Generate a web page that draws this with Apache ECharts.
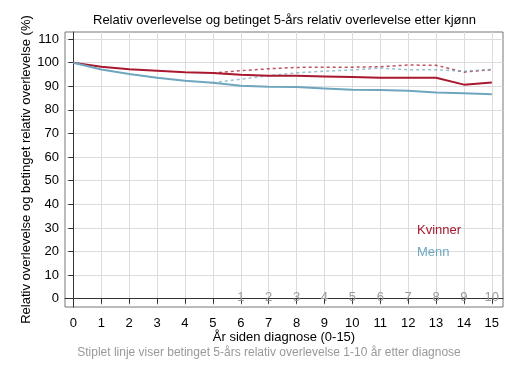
<!DOCTYPE html>
<html>
<head>
<meta charset="utf-8">
<script src="https://cdn.jsdelivr.net/npm/echarts@6/dist/echarts.min.js"></script>
<style>
  html, body { margin: 0; padding: 0; background: #fff; }
  #chart { width: 517px; height: 376px; }
</style>
</head>
<body>
<div id="chart"></div>
<script>
// data
var years = [0, 1, 2, 3, 4, 5, 6, 7, 8, 9, 10, 11, 12, 13, 14, 15];
var kvinner = [100, 98.3, 97.2, 96.6, 96.0, 95.6, 94.9, 94.5, 94.5, 94.2, 93.9, 93.6, 93.6, 93.6, 90.7, 91.6];
var menn = [100, 97.1, 95.2, 93.6, 92.3, 91.5, 90.2, 89.8, 89.7, 89.1, 88.5, 88.4, 88.1, 87.4, 87.0, 86.6];
// betinget 5-års relativ overlevelse, fra år 5
var kvinnerBet = [null, null, null, null, null, 95.6, 96.6, 97.4, 98.0, 98.1, 98.1, 98.3, 99.0, 98.9, 96.0, 97.1];
var mennBet = [null, null, null, null, null, 91.5, 93.0, 94.5, 95.7, 96.4, 96.9, 97.7, 97.0, 97.0, 96.4, 97.1];
var yTicks = [0, 10, 20, 30, 40, 50, 60, 70, 80, 90, 100, 110];
var betTicks = [6, 7, 8, 9, 10, 11, 12, 13, 14, 15]; // vises som 1..10

var red = '#A8182F', blue = '#6FA6BD';
var font = 'Liberation Sans, Arial, sans-serif';

function pairs(vals) {
    return years.map(function(x, i) { return [x, vals[i]]; });
}

var chart = echarts.init(document.getElementById('chart'));

chart.setOption({
    animation: false,
    textStyle: { fontFamily: font },
    title: {
        text: 'Relativ overlevelse og betinget 5-års relativ overlevelse etter kjønn',
        left: 88, top: 9,
        textStyle: { fontSize: 13, fontWeight: 'normal', color: '#000', fontFamily: font }
    },
    legend: {
        orient: 'vertical', left: 407, top: 219, itemGap: 9,
        icon: 'none', itemWidth: 0, itemHeight: 0, selectedMode: false,
        textStyle: { fontSize: 13, fontFamily: font },
        data: [
            { name: 'Kvinner', textStyle: { color: red } },
            { name: 'Menn', textStyle: { color: blue } }
        ]
    },
    grid: { left: 65, right: 14, top: 32, bottom: 69, show: true, borderColor: '#777', borderWidth: 1 },
    xAxis: [{
        type: 'value', min: -0.3, max: 15.4,
        name: 'År siden diagnose (0-15)', nameLocation: 'middle', nameGap: 24, nameMoveOverlap: false,
        nameTextStyle: { fontSize: 13, color: '#000' },
        axisLine: { lineStyle: { color: '#333' } },
        axisTick: { show: true, length: 5, customValues: years, lineStyle: { color: '#333' } },
        axisLabel: { customValues: years, color: '#000', fontSize: 13, margin: 10 },
        splitLine: { show: true, lineStyle: { color: '#dcdcdc' } }
    }, {
        type: 'value', min: -0.3, max: 15.4, position: 'bottom',
        axisLine: { show: false }, axisTick: { show: false }, splitLine: { show: false },
        axisLabel: {
            inside: true, customValues: betTicks, color: '#999', fontSize: 13, margin: 3,
            formatter: function(v) { return String(v - 5); }
        }
    }],
    yAxis: {
        type: 'value', min: -3.5, max: 113,
        name: 'Relativ overlevelse og betinget relativ overlevelse (%)',
        nameLocation: 'middle', nameGap: 32, nameMoveOverlap: false,
        nameTextStyle: { fontSize: 13, color: '#000' },
        axisLine: { show: true, lineStyle: { color: '#333' } },
        axisTick: { show: true, length: 5, customValues: yTicks, lineStyle: { color: '#333' } },
        axisLabel: { customValues: yTicks, color: '#000', fontSize: 13, margin: 6 },
        splitLine: { show: true, lineStyle: { color: '#dcdcdc' } }
    },
    graphic: [{
        type: 'text', x: 269, y: 353,
        style: {
            text: 'Stiplet linje viser betinget 5-års relativ overlevelse 1-10 år etter diagnose',
            fill: '#999', fontSize: 12, fontFamily: font, align: 'center', verticalAlign: 'middle'
        }
    }],
    series: [
        { name: 'Kvinner', type: 'line', data: pairs(kvinner), symbol: 'none', z: 4,
          lineStyle: { color: red, width: 2 }, itemStyle: { color: red } },
        { name: 'Menn', type: 'line', data: pairs(menn), symbol: 'none', z: 4,
          lineStyle: { color: blue, width: 2 }, itemStyle: { color: blue } },
        { name: 'Kvinner betinget', type: 'line', data: pairs(kvinnerBet), symbol: 'none', z: 3,
          lineStyle: { color: red, width: 1.5, type: [3, 3], opacity: 0.75 } },
        { name: 'Menn betinget', type: 'line', data: pairs(mennBet), symbol: 'none', z: 3,
          lineStyle: { color: blue, width: 1.5, type: [3, 3], opacity: 0.7 } }
    ]
});
</script>
</body>
</html>
